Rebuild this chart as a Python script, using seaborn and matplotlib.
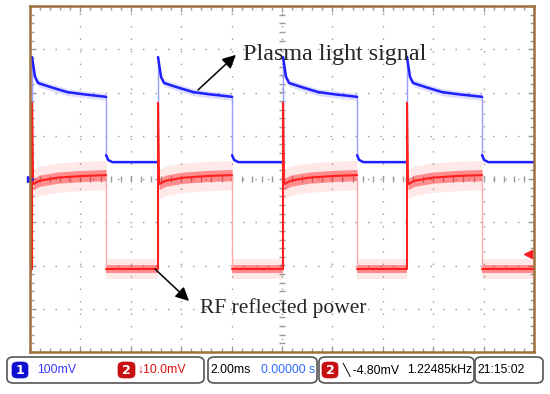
import numpy as np
import pandas as pd
import matplotlib.pyplot as plt
import seaborn as sns
from matplotlib.patches import FancyBboxPatch
from matplotlib.ticker import MultipleLocator

inicio_ms = [0.08, 5.08, 10.04, 14.96]   # subida dos pulsos
queda_ms = [3.02, 8.02, 12.98, 17.94]    # descida dos pulsos
fim_ms = 20.0

# canal 1: luz do plasma (perfil após a subida)
luz_offset = [0.0, 0.12, 0.24, 0.71, 1.39, 2.02]
luz_nivel = [2.82, 2.36, 2.22, 2.13, 2.01, 1.96]
luz_fim = 1.90
luz_baixo_offset = [0.0, 0.08, 0.25]
luz_baixo = [0.55, 0.44, 0.39]

# canal 2: potência refletida
rf_pico = 1.76
rf_offset = [0.04, 0.30, 1.00, 2.00]
rf_nivel = [-0.12, -0.04, 0.03, 0.07]
rf_fim = 0.09
rf_baixo = -2.08

# marcadores e textos da barra de status
trigger_nivel = -1.73
status_textos = ["100mV", "\u219310.0mV", "2.00ms", "0.00000 s", "\u2572 -4.80mV", "1.22485kHz", "21:15:02"]

AZUL = "#1f1fff"
AZUL_CLARO = "#9a9aff"
VERMELHO = "#ff1f1f"
ROSA = "#ffaaaa"
MOLDURA = "#a0703c"


def segmentos_luz():
    forte, fraco = [], []
    inicios_baixo = [0.0] + queda_ms
    fins_baixo = inicio_ms + [fim_ms]
    for k, (a, b) in enumerate(zip(inicio_ms, queda_ms)):
        forte += [(f"h{k}", a + o, v) for o, v in zip(luz_offset, luz_nivel)]
        forte.append((f"h{k}", b, luz_fim))
        fraco += [(f"s{k}", a, luz_baixo[-1]), (f"s{k}", a, luz_nivel[0])]
        fraco += [(f"d{k}", b, luz_fim), (f"d{k}", b, luz_baixo[0])]
    for k, (a, b) in enumerate(zip(inicios_baixo, fins_baixo)):
        if k == 0:
            forte += [(f"l{k}", a, luz_baixo[-1])]
        else:
            forte += [(f"l{k}", a + o, v) for o, v in zip(luz_baixo_offset, luz_baixo)]
        forte.append((f"l{k}", b, luz_baixo[-1]))
    cols = ["seg", "t", "v"]
    return pd.DataFrame(forte, columns=cols), pd.DataFrame(fraco, columns=cols)


def segmentos_rf():
    forte, fraco = [], []
    inicios_baixo = [0.0] + queda_ms
    fins_baixo = inicio_ms + [fim_ms]
    for k, (a, b) in enumerate(zip(inicio_ms, queda_ms)):
        forte += [(f"h{k}", a, rf_baixo), (f"h{k}", a, rf_pico)]
        forte += [(f"h{k}", a + o, v) for o, v in zip(rf_offset, rf_nivel)]
        forte.append((f"h{k}", b, rf_fim))
        fraco += [(f"d{k}", b, rf_fim), (f"d{k}", b, rf_baixo)]
    for k, (a, b) in enumerate(zip(inicios_baixo, fins_baixo)):
        forte += [(f"l{k}", a, rf_baixo), (f"l{k}", b, rf_baixo)]
    cols = ["seg", "t", "v"]
    return pd.DataFrame(forte, columns=cols), pd.DataFrame(fraco, columns=cols)


sns.set_style("white")
plt.rcParams['font.family'] = ['DejaVu Sans']

fig = plt.figure(figsize=(5.5, 3.94), dpi=100)
ax = fig.add_axes([30 / 550, 1 - 352 / 394, 504 / 550, 346 / 394])

# faixa de persistência (rosa / azul claro)
for a, b in zip(inicio_ms, queda_ms):
    th = [a + o for o in rf_offset] + [b]
    vh = np.array(rf_nivel + [rf_fim])
    ax.fill_between(th, vh - 0.34, vh + 0.34, color=VERMELHO, alpha=0.10, lw=0)
    ax.fill_between(th, vh - 0.13, vh + 0.13, color=VERMELHO, alpha=0.45, lw=0)
    tl = [a + o for o in luz_offset] + [b]
    vl = np.array(luz_nivel + [luz_fim])
    ax.fill_between(tl, vl - 0.08, vl + 0.08, color=AZUL, alpha=0.15, lw=0)
for a, b in zip([0.0] + queda_ms, inicio_ms + [fim_ms]):
    ax.fill_between([a, b], rf_baixo - 0.24, rf_baixo + 0.24, color=VERMELHO, alpha=0.10, lw=0)
    ax.fill_between([a, b], rf_baixo - 0.09, rf_baixo + 0.09, color=VERMELHO, alpha=0.45, lw=0)

luz_forte, luz_fraco = segmentos_luz()
rf_forte, rf_fraco = segmentos_rf()
sns.lineplot(data=luz_fraco, x="t", y="v", units="seg", sort=False, estimator=None,
             color=AZUL_CLARO, lw=1.0, ax=ax)
sns.lineplot(data=luz_forte, x="t", y="v", units="seg", sort=False, estimator=None,
             color=AZUL, lw=1.8, ax=ax)
sns.lineplot(data=rf_fraco, x="t", y="v", units="seg", sort=False, estimator=None,
             color=ROSA, lw=1.0, ax=ax)
sns.lineplot(data=rf_forte, x="t", y="v", units="seg", sort=False, estimator=None,
             color=VERMELHO, lw=1.5, ax=ax)

ax.set_xlim(0, 20)
ax.set_ylim(-4, 4)
ax.set_xlabel("")
ax.set_ylabel("")

# grade do osciloscópio
ax.xaxis.set_major_locator(MultipleLocator(2))
ax.xaxis.set_minor_locator(MultipleLocator(0.4))
ax.yaxis.set_major_locator(MultipleLocator(1))
ax.yaxis.set_minor_locator(MultipleLocator(0.2))
ax.grid(True, which="major", color="#999999", lw=1.0, linestyle=(0, (1, 8)))
ax.tick_params(which="both", direction="in", top=True, right=True, bottom=True, left=True,
               labelbottom=False, labelleft=False, color="#999999")
ax.tick_params(which="major", length=4, width=1)
ax.tick_params(which="minor", length=3, width=1)
marcas_x = np.arange(0.4, 20, 0.4)
marcas_y = np.arange(-3.8, 4, 0.2)
ax.scatter(marcas_x, np.zeros_like(marcas_x), marker="|", s=14, color="#999999", lw=1, zorder=0)
ax.scatter(np.full_like(marcas_y, 10.0), marcas_y, marker="_", s=14, color="#999999", lw=1, zorder=0)
for s in ax.spines.values():
    s.set_color(MOLDURA)
    s.set_linewidth(1.8)

# marcadores de canal / trigger
ax.plot([19.75], [trigger_nivel], marker="<", color=VERMELHO, ms=6, clip_on=False)
ax.plot([0.0], [0.0], marker=">", color=AZUL, ms=4, clip_on=False)

# anotações
serif = ["Liberation Serif", "DejaVu Serif"]
ax.annotate("", xy=(8.17, 2.87), xytext=(6.67, 2.06),
            arrowprops=dict(arrowstyle="-|>", mutation_scale=20, color="black", lw=1.1,
                            shrinkA=0, shrinkB=0))
ax.text(8.45, 2.75, "Plasma light signal", family=serif, fontsize=17.3, va="baseline")
ax.annotate("", xy=(6.31, -2.82), xytext=(4.96, -2.08),
            arrowprops=dict(arrowstyle="-|>", mutation_scale=20, color="black", lw=1.1,
                            shrinkA=0, shrinkB=0))
ax.text(6.75, -3.10, "RF reflected power", family=serif, fontsize=15.5, va="baseline")


# barra de status
def px(x, y):
    return x / 550, 1 - y / 394


def caixa(x0, x1, y0=357, y1=383):
    fx, fy = px(x0, y1)
    w, h = (x1 - x0) / 550, (y1 - y0) / 394
    fig.patches.append(FancyBboxPatch((fx, fy), w, h, boxstyle="round,pad=0,rounding_size=0.012",
                                      transform=fig.transFigure, fc="white", ec="#555555", lw=1.2))


def selo(x0, x1, texto, cor):
    fx, fy = px(x0, 378)
    w, h = (x1 - x0) / 550, 16 / 394
    fig.patches.append(FancyBboxPatch((fx, fy), w, h, boxstyle="round,pad=0,rounding_size=0.01",
                                      transform=fig.transFigure, fc=cor, ec=cor, lw=0.5))
    fig.text(*px((x0 + x1) / 2, 370.5), texto, color="white", fontsize=9, fontweight="bold",
             ha="center", va="center")


caixa(7, 204)
caixa(208, 317)
caixa(319, 474)
caixa(475, 543)
selo(12, 28, "1", "#1010d0")
selo(118, 135, "2", "#c81010")
selo(322, 338, "2", "#c81010")

fonte = ["Liberation Sans", "DejaVu Sans"]
fs = 8.8
fig.text(*px(37, 370), status_textos[0], color="#3a3aff", fontsize=fs, family=fonte, va="center")
fig.text(*px(137, 370), status_textos[1], color="#e01010", fontsize=fs, family=fonte, va="center")
fig.text(*px(210, 370), status_textos[2], color="black", fontsize=fs, family=fonte, va="center")
fig.text(*px(315, 370), status_textos[3], color="#2e6bff", fontsize=fs, family=fonte, va="center", ha="right")
fig.text(*px(343, 370), status_textos[4], color="black", fontsize=fs, family=fonte, va="center")
fig.text(*px(472, 370), status_textos[5], color="black", fontsize=fs, family=fonte, va="center", ha="right")
fig.text(*px(477, 370), status_textos[6], color="black", fontsize=fs, family=fonte, va="center")

plt.savefig("out.png", dpi=100)
